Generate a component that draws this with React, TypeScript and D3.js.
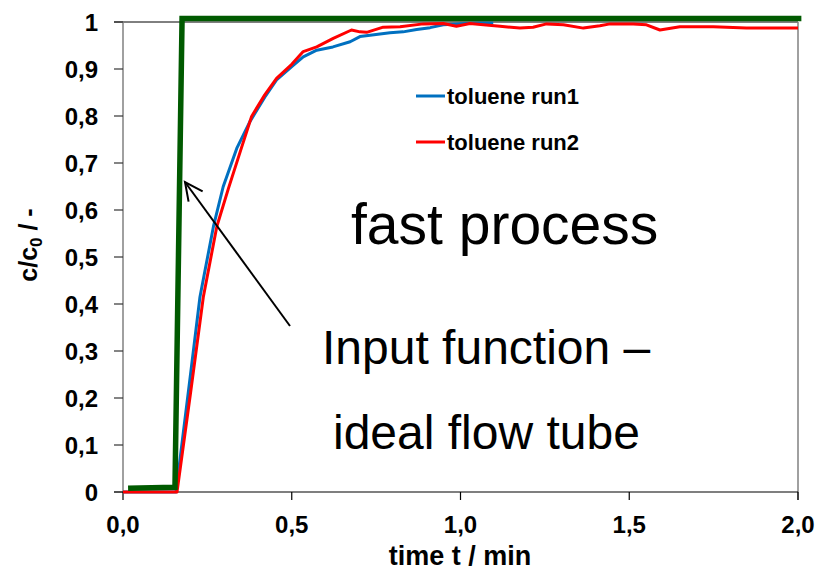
import React from "react";
import * as d3 from "d3";

const yTicks = [0, 0.1, 0.2, 0.3, 0.4, 0.5, 0.6, 0.7, 0.8, 0.9, 1];
const xTicks = [0, 0.5, 1.0, 1.5, 2.0];

const inputT = [0.015, 0.154, 0.175, 2.01];
const inputV = [0.008, 0.01, 1.0074, 1.0074];

const run1T = [0, 0.157, 0.2, 0.228, 0.24, 0.268, 0.297, 0.337, 0.376, 0.42, 0.455, 0.5, 0.534, 0.574, 0.622, 0.673, 0.702, 0.732, 0.791, 0.83, 0.87, 0.91, 0.949, 1.018, 1.06, 1.097];
const run1V = [0, 0, 0.25, 0.415, 0.46, 0.565, 0.65, 0.731, 0.788, 0.84, 0.877, 0.905, 0.926, 0.94, 0.947, 0.958, 0.969, 0.972, 0.977, 0.979, 0.984, 0.988, 0.994, 0.997, 0.998, 0.998];

const run2T = [0, 0.16, 0.2, 0.238, 0.278, 0.312, 0.35, 0.381, 0.42, 0.455, 0.5, 0.534, 0.574, 0.623, 0.677, 0.702, 0.722, 0.771, 0.821, 0.89, 0.949, 0.988, 1.028, 1.068, 1.117, 1.176, 1.215, 1.255, 1.305, 1.364, 1.413, 1.443, 1.512, 1.551, 1.591, 1.65, 1.749, 1.847, 1.947, 2.0];
const run2V = [0, 0, 0.21, 0.415, 0.565, 0.645, 0.73, 0.799, 0.845, 0.88, 0.91, 0.937, 0.947, 0.965, 0.983, 0.979, 0.978, 0.989, 0.99, 0.996, 0.997, 0.991, 0.997, 0.994, 0.991, 0.987, 0.989, 0.996, 0.994, 0.987, 0.992, 0.996, 0.996, 0.994, 0.983, 0.99, 0.99, 0.987, 0.987, 0.987];

const legendLabels = ["toluene run1", "toluene run2"];
const seriesColors = ["#0070C0", "#FF0000"];
const inputColor = "#005A00";

const FONT = "Arial, 'Liberation Sans', sans-serif";

export default function App() {
  const left = 123, right = 798, top = 22, bottom = 492;
  const x = d3.scaleLinear().domain([0, 2]).range([left, right]);
  const y = d3.scaleLinear().domain([0, 1]).range([bottom, top]);
  const line = d3.line<[number, number]>().x(d => x(d[0])).y(d => y(d[1]));
  const zip = (t: number[], v: number[]) => t.map((tt, i) => [tt, v[i]] as [number, number]);

  const fmt = (v: number, digits: number) => v.toFixed(digits).replace(".", ",");

  // arrow geometry
  const ax1 = 290, ay1 = 326, ax2 = 185, ay2 = 182;
  const ang = Math.atan2(ay1 - ay2, ax1 - ax2);
  const hl = 20, spread = 0.45;
  const h1 = [ax2 + hl * Math.cos(ang + spread), ay2 + hl * Math.sin(ang + spread)];
  const h2 = [ax2 + hl * Math.cos(ang - spread), ay2 + hl * Math.sin(ang - spread)];

  return (
    <svg width={817} height={573} style={{ position: "absolute", left: 0, top: 0, background: "#fff" }} fontFamily={FONT}>
      <rect width={817} height={573} fill="#fff" />
      {/* frame */}
      <line x1={114} x2={right} y1={top} y2={top} stroke="#000" strokeWidth={1} />
      <line x1={right} x2={right} y1={top} y2={bottom + 8} stroke="#808080" strokeWidth={1.5} />
      <line x1={left} x2={left} y1={top} y2={bottom} stroke="#808080" strokeWidth={1.5} />
      <line x1={114} x2={right} y1={bottom} y2={bottom} stroke="#000" strokeWidth={1.2} />
      {yTicks.map(t => (
        <g key={"y" + t}>
          <line x1={114} x2={left} y1={y(t)} y2={y(t)} stroke="#333" strokeWidth={1.2} />
          <text x={98} y={y(t) + 8.5} textAnchor="end" fontSize={24} fontWeight="bold">
            {t === 0 || t === 1 ? String(t) : fmt(t, 1)}
          </text>
        </g>
      ))}
      {xTicks.map(t => (
        <g key={"x" + t}>
          <line x1={x(t)} x2={x(t)} y1={bottom} y2={bottom + 8} stroke="#000" strokeWidth={1.2} />
          <text x={x(t)} y={533} textAnchor="middle" fontSize={24} fontWeight="bold">
            {fmt(t, 1)}
          </text>
        </g>
      ))}
      <text x={460} y={565} textAnchor="middle" fontSize={27} fontWeight="bold">
        time t / min
      </text>
      <text transform={`translate(37,245) rotate(-90)`} textAnchor="middle" fontSize={25} fontWeight="bold">
        c/c<tspan fontSize={17} dy={5}>0</tspan><tspan dy={-5}> / -</tspan>
      </text>

      {/* series */}
      <path d={line(zip(run1T, run1V)) || ""} fill="none" stroke={seriesColors[0]} strokeWidth={3} strokeLinejoin="round" />
      <path d={line(zip(run2T, run2V)) || ""} fill="none" stroke={seriesColors[1]} strokeWidth={3} strokeLinejoin="round" />
      <path d={line(zip(inputT, inputV)) || ""} fill="none" stroke={inputColor} strokeWidth={5.5} strokeLinejoin="miter" />

      {/* legend */}
      {legendLabels.map((l, i) => (
        <g key={l}>
          <line x1={416} x2={445} y1={96 + i * 46} y2={96 + i * 46} stroke={seriesColors[i]} strokeWidth={3} />
          <text x={447} y={104 + i * 46} fontSize={22} fontWeight="bold">{l}</text>
        </g>
      ))}

      {/* annotations */}
      <line x1={ax1} y1={ay1} x2={ax2} y2={ay2} stroke="#000" strokeWidth={2} />
      <polyline points={`${h1[0]},${h1[1]} ${ax2},${ay2} ${h2[0]},${h2[1]}`} fill="none" stroke="#000" strokeWidth={2} />
      <text x={351} y={244} fontSize={57}>fast process</text>
      <text x={322} y={364} fontSize={48}>Input function –</text>
      <text x={333} y={449} fontSize={48}>ideal flow tube</text>
    </svg>
  );
}
